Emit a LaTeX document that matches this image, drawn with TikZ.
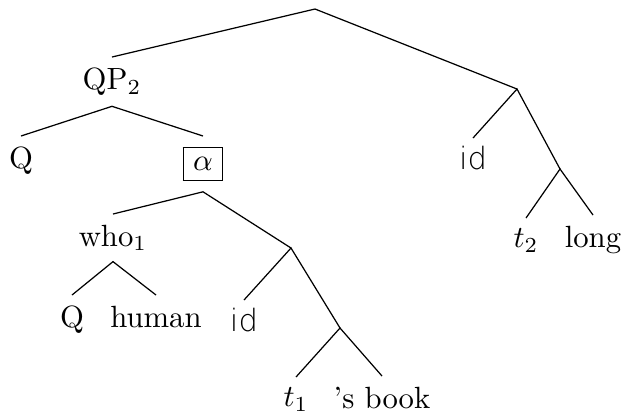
\documentclass[tikz,border=0pt]{standalone}
\usepackage{fontspec}
\newfontfamily\idfont{DejaVu Sans ExtraLight}
\begin{document}
\begin{tikzpicture}[x=0.3257pt,y=-0.3257pt,
  lbl/.style={anchor=north},
  idlbl/.style={anchor=north,text height=6.6pt,font=\idfont},
  edge/.style={line width=0.4pt}]
\useasboundingbox (0,0) rectangle (621,414);
% internal branching points
\coordinate (r) at (315,9);
\coordinate (n1) at (517,89);
\coordinate (n2) at (560,169);
\coordinate (n3) at (291,248);
\coordinate (n4) at (340,328);
% labels
\node[lbl] (qp) at (112,57) {QP$_2$};
\node[lbl] (q1) at (21,136) {Q};
\node[lbl] (al) at (203,136) {\fbox{$\alpha$}};
\node[lbl] (who) at (113,214) {who$_1$};
\node[lbl] (q2) at (72,295) {Q};
\node[lbl] (hum) at (156,295) {human};
\node[idlbl] (id2) at (244,300) {id};
\node[lbl] (t1) at (296,377) {$t_1$};
\node[lbl] (bk) at (382,376) {’s book};
\node[idlbl] (id1) at (473,138) {id};
\node[lbl] (t2) at (526,218) {$t_2$};
\node[lbl] (lg) at (593,215) {long};
% edges
\draw[edge] (qp.north) -- (r) -- (n1);
\draw[edge] (q1.north) -- (qp.south) -- (al.north);
\draw[edge] (who.north) -- (al.south) -- (n3);
\draw[edge] (q2.north) -- (who.south) -- (hum.north);
\draw[edge] (id2.north) -- (n3) -- (n4);
\draw[edge] (t1.north) -- (n4) -- (bk.north);
\draw[edge] (id1.north) -- (n1) -- (n2);
\draw[edge] (t2.north) -- (n2) -- (lg.north);
\end{tikzpicture}
\end{document}
